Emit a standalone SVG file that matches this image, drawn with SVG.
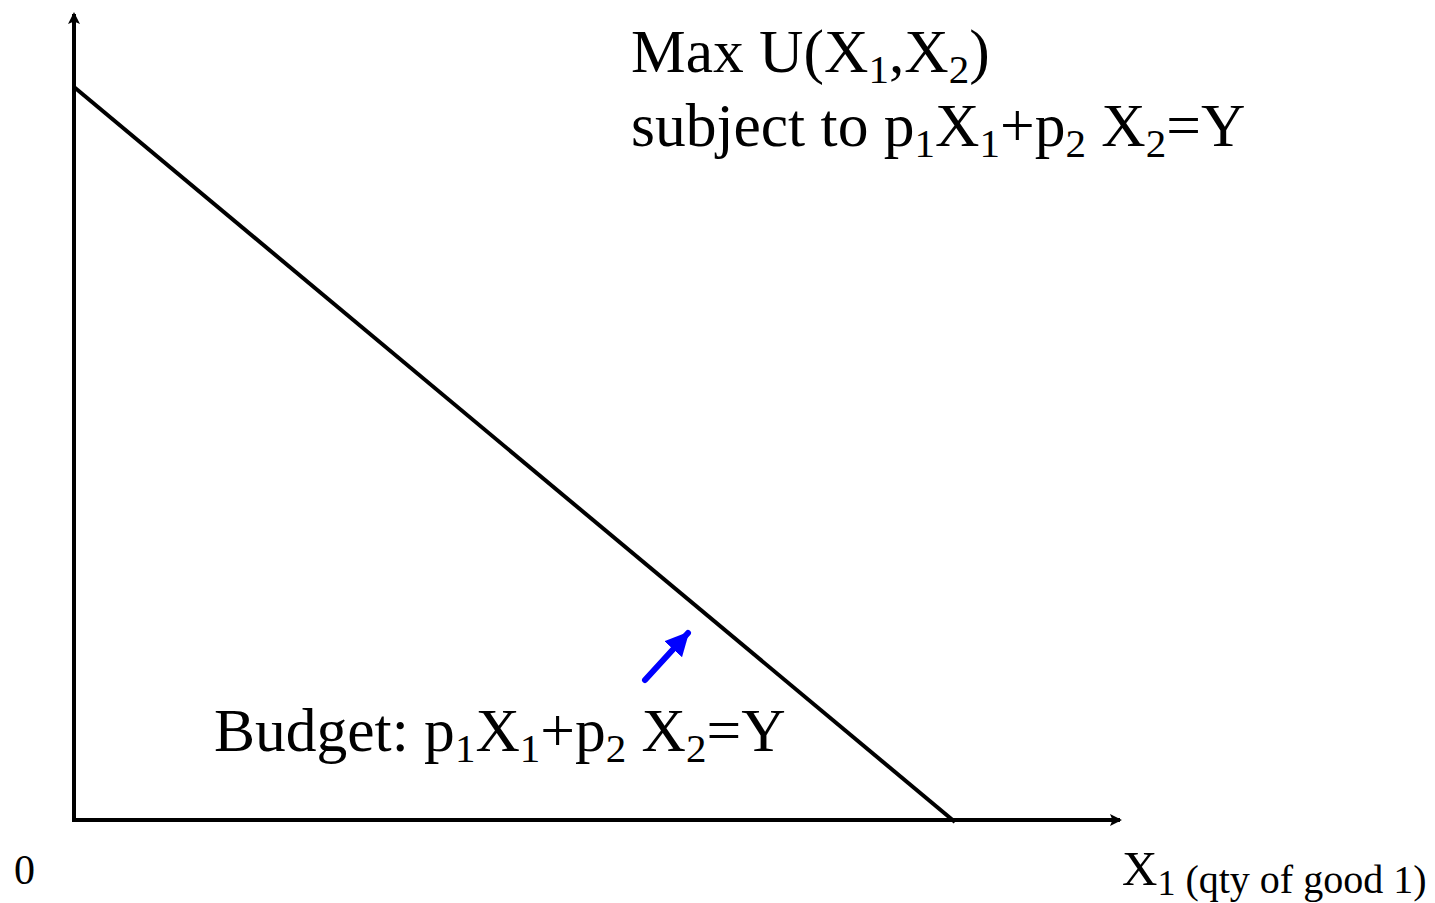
<svg xmlns="http://www.w3.org/2000/svg" width="1435" height="903" viewBox="0 0 1435 903">
<style>
.t{font-family:"Liberation Serif","Times New Roman",serif;fill:#000;font-size:61.5px}
.s{font-size:41px}
.ax{stroke:#000;stroke-width:4;fill:none}
</style>
<defs>
<marker id="ah" markerWidth="12" markerHeight="12" refX="10" refY="6" orient="auto" markerUnits="userSpaceOnUse" viewBox="0 0 12 12">
<path d="M0,0 L12,6 L0,12 L2.5,6 Z" fill="#000"/>
</marker>
<marker id="bh" markerWidth="26" markerHeight="26" refX="22" refY="13" orient="auto" markerUnits="userSpaceOnUse" viewBox="0 0 26 26">
<path d="M0,1 L24,13 L0,25 Z" fill="#0000ff"/>
</marker>
</defs>
<rect width="1435" height="903" fill="#fff"/>
<g id="connectors">
<line class="ax" x1="74" y1="822" x2="74" y2="14" marker-end="url(#ah)"/>
<line class="ax" x1="74" y1="820" x2="1120" y2="820" marker-end="url(#ah)"/>
<line id="budget-line" x1="74" y1="87" x2="955" y2="822" stroke="#000" stroke-width="4"/>
<line x1="645" y1="680" x2="688" y2="633" stroke="#0000ff" stroke-width="6" stroke-linecap="round" marker-end="url(#bh)"/>
</g>
<g id="title">
<text class="t" x="631" y="72">Max U(X<tspan class="s" dy="11">1</tspan><tspan dy="-11">,X</tspan><tspan class="s" dy="11">2</tspan><tspan dy="-11">)</tspan></text>
<text class="t" x="631" y="146">subject to p<tspan class="s" dy="11">1</tspan><tspan dy="-11">X</tspan><tspan class="s" dy="11">1</tspan><tspan dy="-11">+p</tspan><tspan class="s" dy="11">2</tspan><tspan dy="-11"> X</tspan><tspan class="s" dy="11">2</tspan><tspan dy="-11">=Y</tspan></text>
</g>
<g id="budget-label">
<text class="t" x="214" y="751">Budget: p<tspan class="s" dy="11">1</tspan><tspan dy="-11">X</tspan><tspan class="s" dy="11">1</tspan><tspan dy="-11">+p</tspan><tspan class="s" dy="11">2</tspan><tspan dy="-11"> X</tspan><tspan class="s" dy="11">2</tspan><tspan dy="-11">=Y</tspan></text>
</g>
<g id="origin">
<text class="t" x="14" y="884" style="font-size:42px">0</text>
</g>
<g id="x-label">
<text class="t" x="1122" y="885" style="font-size:49px">X<tspan style="font-size:36px" dy="10">1</tspan><tspan style="font-size:40px" dy="-2"> (qty of good 1)</tspan></text>
</g>
</svg>
